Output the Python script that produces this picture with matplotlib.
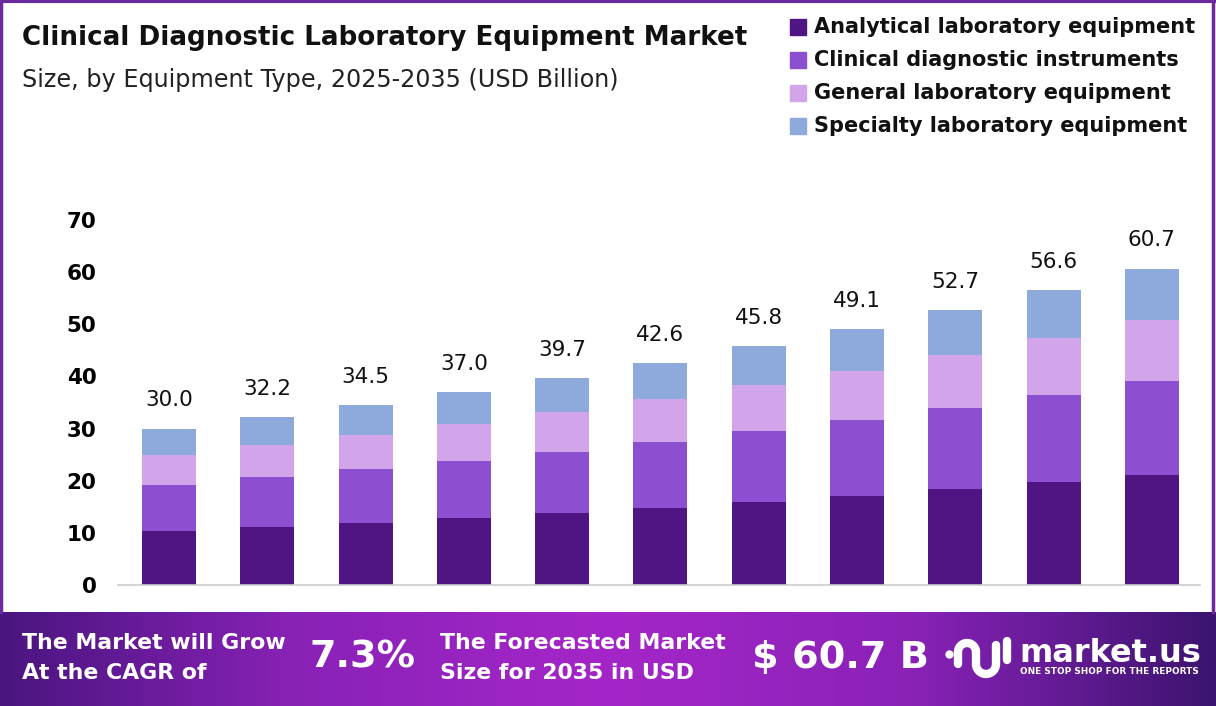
import numpy as np
import matplotlib
matplotlib.use("Agg")
import matplotlib.pyplot as plt
from matplotlib.colors import LinearSegmentedColormap
from matplotlib.patches import Rectangle

plt.rcParams['font.family'] = ['DejaVu Sans']

# data (USD Billion)
years = ['2025', '2026', '2027', '2028', '2029', '2030', '2031', '2032', '2033', '2034', '2035']
totals = [30.0, 32.2, 34.5, 37.0, 39.7, 42.6, 45.8, 49.1, 52.7, 56.6, 60.7]
analytical = [10.4, 11.1, 11.9, 12.9, 13.8, 14.8, 15.9, 17.1, 18.4, 19.8, 21.1]
clinical = [8.8, 9.6, 10.4, 10.9, 11.7, 12.6, 13.7, 14.6, 15.6, 16.7, 18.1]
general = [5.8, 6.2, 6.5, 7.1, 7.7, 8.3, 8.8, 9.4, 10.1, 10.9, 11.7]
specialty = [5.0, 5.3, 5.7, 6.1, 6.5, 6.9, 7.4, 8.0, 8.6, 9.2, 9.8]
series_names = ['Analytical laboratory equipment', 'Clinical diagnostic instruments',
                'General laboratory equipment', 'Specialty laboratory equipment']
colors = ['#4f1582', '#8c4fcf', '#d2a5ea', '#8eaadc']
cagr = '7.3%'
forecast = '$ 60.7 B'

fig = plt.figure(figsize=(12.16, 7.06), dpi=100)
W, H = 1216, 706

def fx(px):
    return px / W

def fy(py):
    return 1 - py / H

# chart area
ax = fig.add_axes([fx(118), fy(585), fx(1200) - fx(118), fy(209.6) - fy(585)])
x = np.arange(len(years))
bottom = np.zeros(len(years))
for vals, c in zip([analytical, clinical, general, specialty], colors):
    ax.bar(x, vals, 0.55, bottom=bottom, color=c, zorder=2)
    bottom += np.array(vals)
for xi, t in zip(x, totals):
    ax.text(xi, t + 3.5, f'{t:.1f}', ha='center', va='bottom', fontsize=15.5,
            color='#111111')
ax.set_xlim(-0.52, 10.49)
ax.set_ylim(0, 72)
ax.set_yticks(range(0, 71, 10))
ax.set_yticklabels([str(v) for v in range(0, 71, 10)], fontsize=15.5, fontweight='bold')
ax.set_xticks([])
for s in ['top', 'right', 'left']:
    ax.spines[s].set_visible(False)
ax.spines['bottom'].set_color('#cccccc')
ax.spines['bottom'].set_linewidth(1.2)
ax.tick_params(axis='y', length=0, pad=15.5)

# titles
fig.text(fx(22), fy(38), 'Clinical Diagnostic Laboratory Equipment Market', fontsize=18.8,
         fontweight='bold', va='center', ha='left', color='#111111')
fig.text(fx(22), fy(80), 'Size, by Equipment Type, 2025-2035 (USD Billion)', fontsize=17.2,
         va='center', ha='left', color='#222222')

# legend
for i, (name, c) in enumerate(zip(series_names, colors)):
    yc = 27 + i * 33
    fig.patches.append(Rectangle((fx(790), fy(yc + 8)), fx(16), fy(0) - fy(16),
                                 transform=fig.transFigure, color=c))
    fig.text(fx(814), fy(yc), name, fontsize=15, fontweight='bold', va='center',
             ha='left', color='#111111')

# border
fig.add_artist(plt.Line2D([fx(1), fx(1)], [fy(612), 1], color='#6a2a9a', lw=2.5))
fig.add_artist(plt.Line2D([fx(1213), fx(1213)], [fy(612), 1], color='#6a2a9a', lw=2.5))
fig.add_artist(plt.Line2D([0, 1], [fy(1), fy(1)], color='#6a2a9a', lw=3))

# banner
bax = fig.add_axes([0, 0, 1, fy(612)])
cmap = LinearSegmentedColormap.from_list('ban', ['#4a1580', '#8a22b8', '#a526c8', '#8a22b8', '#3c1470'])
bax.imshow(np.linspace(0, 1, 400).reshape(1, -1), aspect='auto', cmap=cmap, extent=[0, 1, 0, 1])
bax.set_axis_off()
bax.set_xlim(0, 1)
bax.set_ylim(0, 1)

fig.text(fx(22), fy(643), 'The Market will Grow', fontsize=15.8, fontweight='bold', color='white', va='center')
fig.text(fx(22), fy(673), 'At the CAGR of', fontsize=15.8, fontweight='bold', color='white', va='center')
fig.text(fx(310), fy(658), cagr, fontsize=27.5, fontweight='bold', color='white', va='center')
fig.text(fx(440), fy(643), 'The Forecasted Market', fontsize=15.8, fontweight='bold', color='white', va='center')
fig.text(fx(440), fy(673), 'Size for 2035 in USD', fontsize=15.8, fontweight='bold', color='white', va='center')
fig.text(fx(752), fy(658), forecast, fontsize=27.5, fontweight='bold', color='white', va='center')

# logo
lk = dict(color='white', lw=6, solid_capstyle='round', transform=fig.transFigure)
fig.add_artist(plt.Line2D([fx(949)], [fy(654)], marker='o', ms=5, color='white', transform=fig.transFigure))
t = np.linspace(np.pi, 0, 30)
fig.add_artist(plt.Line2D(fx(967 + 9 * np.cos(t)), fy(652 - 9 * np.sin(t)), **lk))
fig.add_artist(plt.Line2D([fx(958), fx(958)], [fy(652), fy(664)], **lk))
fig.add_artist(plt.Line2D(fx(986 + 10 * np.cos(t + np.pi)), fy(664 - 10 * np.sin(t + np.pi)), **lk))
fig.add_artist(plt.Line2D([fx(976), fx(976)], [fy(652), fy(664)], **lk))
fig.add_artist(plt.Line2D([fx(996), fx(996)], [fy(645), fy(664)], **lk))
fig.add_artist(plt.Line2D([fx(1007), fx(1007)], [fy(641), fy(660)], **lk))
fig.text(fx(1019), fy(653), 'market.us', fontsize=23, fontweight='bold', color='white', va='center')
fig.text(fx(1020), fy(672), 'ONE STOP SHOP FOR THE REPORTS', fontsize=6.4, fontweight='bold',
         color='white', va='center')

fig.savefig('out.png', dpi=100)
